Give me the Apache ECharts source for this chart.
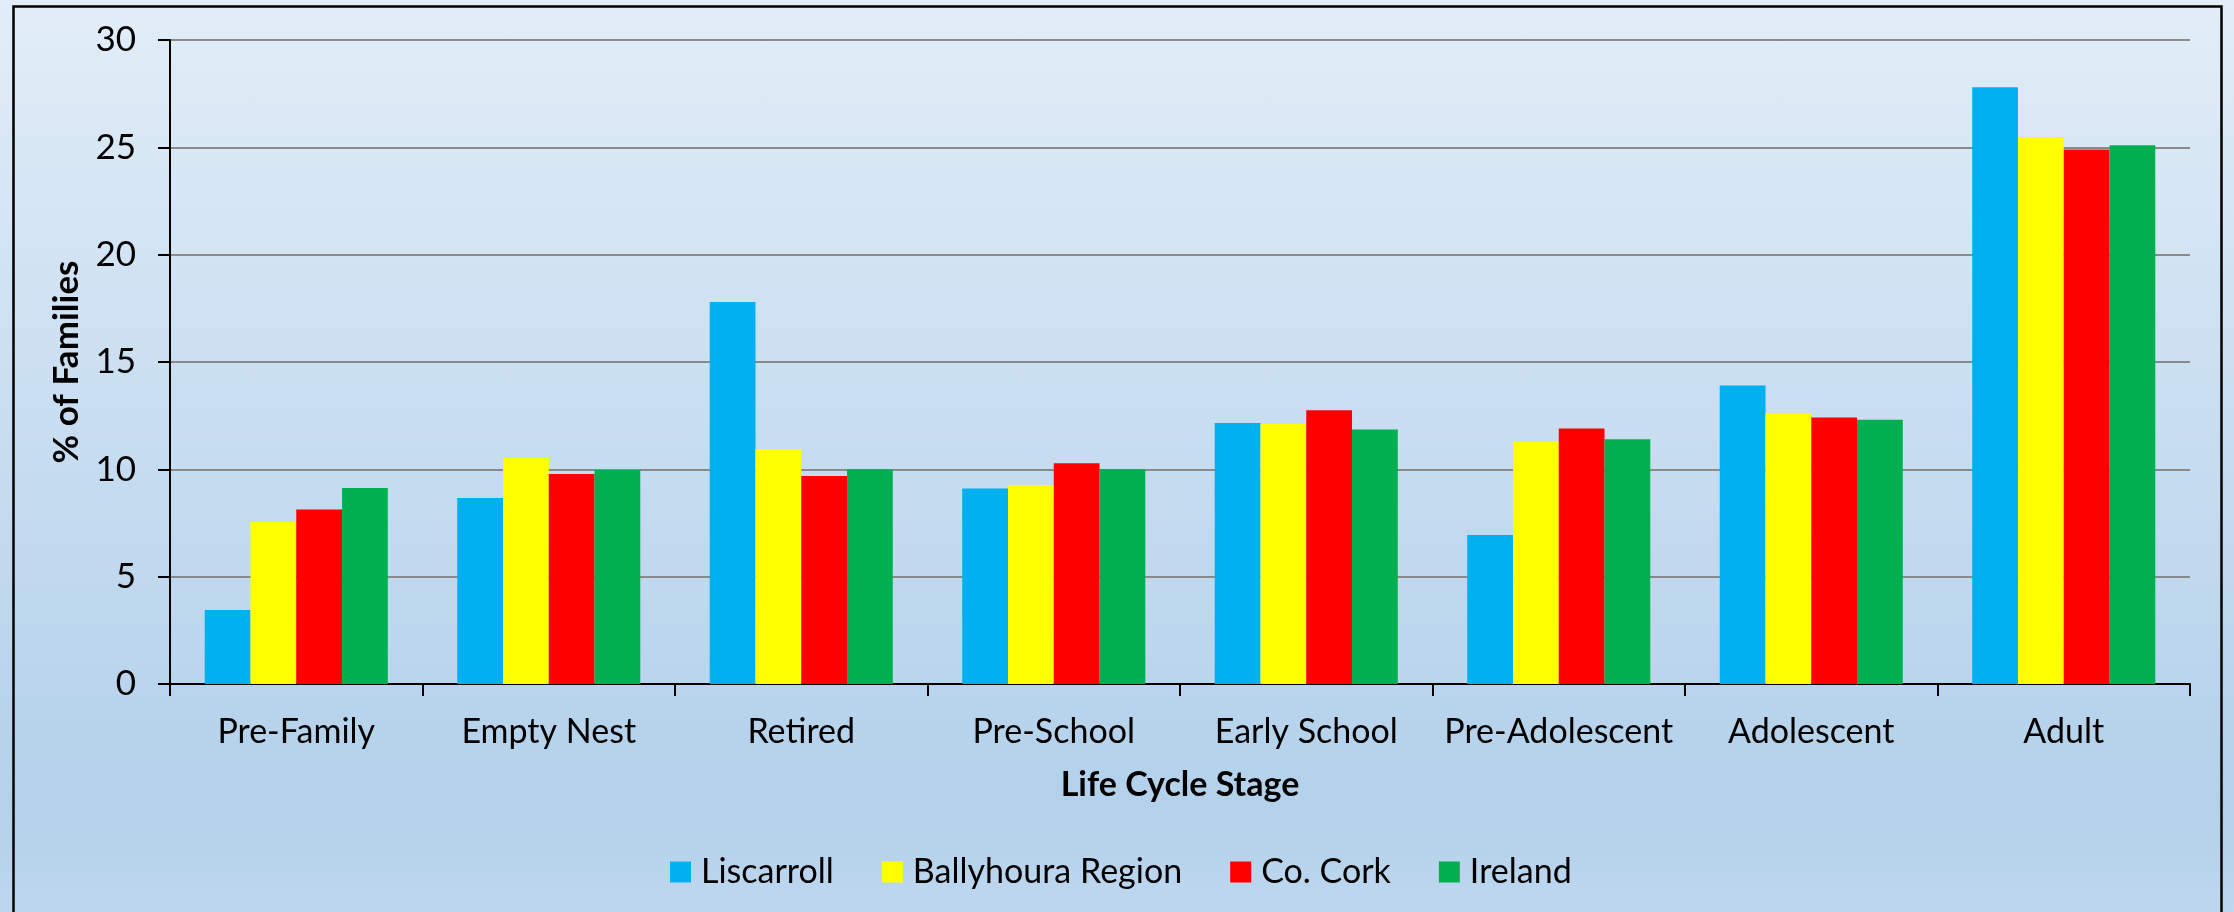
<!DOCTYPE html>
<html>
<head>
<meta charset="utf-8">
<script src="https://cdn.jsdelivr.net/npm/echarts@6/dist/echarts.min.js"></script>
<style>
html,body{margin:0;padding:0;width:2234px;height:912px;overflow:hidden;
background:linear-gradient(to bottom,#e2edf7 0%,#c9def1 45%,#b3d1eb 88%,#bdd7ee 100%);}
#chart{width:2234px;height:912px;}
</style>
</head>
<body>
<div id="chart"></div>
<script>
const categories = ['Pre-Family','Empty Nest','Retired','Pre-School','Early School','Pre-Adolescent','Adolescent','Adult'];
const seriesNames = ['Liscarroll','Ballyhoura Region','Co. Cork','Ireland'];
const liscarroll = [3.45, 8.66, 17.8, 9.11, 12.16, 6.94, 13.91, 27.8];
const ballyhoura = [7.55, 10.53, 10.93, 9.27, 12.11, 11.29, 12.62, 25.48];
const coCork = [8.13, 9.78, 9.69, 10.28, 12.75, 11.9, 12.42, 24.9];
const ireland = [9.13, 9.97, 10.0, 10.0, 11.86, 11.4, 12.31, 25.1];
const colors = ['#00b0f0','#ffff00','#ff0000','#00b050'];
const yAxisTitle = '% of Families';
const xAxisTitle = 'Life Cycle Stage';

const FONT = 'Lato';
const chart = echarts.init(document.getElementById('chart'));
const dataSets = [liscarroll, ballyhoura, coCork, ireland];
chart.setOption({
  backgroundColor: 'transparent',
  animation: false,
  graphic: [{
    type: 'rect', left: 11, top: 4, z: 100,
    shape: {x: 0, y: 0, width: 2208, height: 940},
    style: {fill: 'none', stroke: '#000', lineWidth: 2.5}
  }],
  grid: {left: 170, right: 44, top: 40, bottom: 228},
  legend: {
    left: 665, top: 850,
    itemWidth: 21, itemHeight: 21, itemGap: 48,
    icon: 'rect',
    data: seriesNames,
    textStyle: {fontFamily: FONT, fontSize: 34, color: '#000', padding: [0,0,0,5]}
  },
  xAxis: {
    type: 'category',
    data: categories,
    name: xAxisTitle,
    nameLocation: 'middle',
    nameGap: 84,
    nameTextStyle: {fontFamily: FONT, fontSize: 34, fontWeight: 'bold', color: '#000'},
    axisLine: {lineStyle: {color: '#000', width: 2}},
    axisTick: {show: true, interval: 0, length: 12, lineStyle: {color: '#000', width: 2}},
    axisLabel: {interval: 0, fontFamily: FONT, fontSize: 34, color: '#000', margin: 31}
  },
  yAxis: {
    type: 'value',
    min: 0, max: 30, interval: 5,
    name: yAxisTitle,
    nameLocation: 'middle',
    nameRotate: 90,
    nameGap: 86,
    nameTextStyle: {fontFamily: FONT, fontSize: 35, fontWeight: 'bold', color: '#000'},
    axisLine: {show: true, lineStyle: {color: '#000', width: 2}},
    axisTick: {show: true, length: 12, lineStyle: {color: '#000', width: 2}},
    axisLabel: {fontFamily: FONT, fontSize: 35, color: '#000', margin: 34},
    splitLine: {lineStyle: {color: '#8a8a8a', width: 2}}
  },
  series: seriesNames.map((n, i) => ({
    name: n,
    type: 'bar',
    data: dataSets[i],
    barGap: '0%',
    barCategoryGap: '27.5%',
    itemStyle: {color: colors[i]}
  }))
});
</script>
</body>
</html>
